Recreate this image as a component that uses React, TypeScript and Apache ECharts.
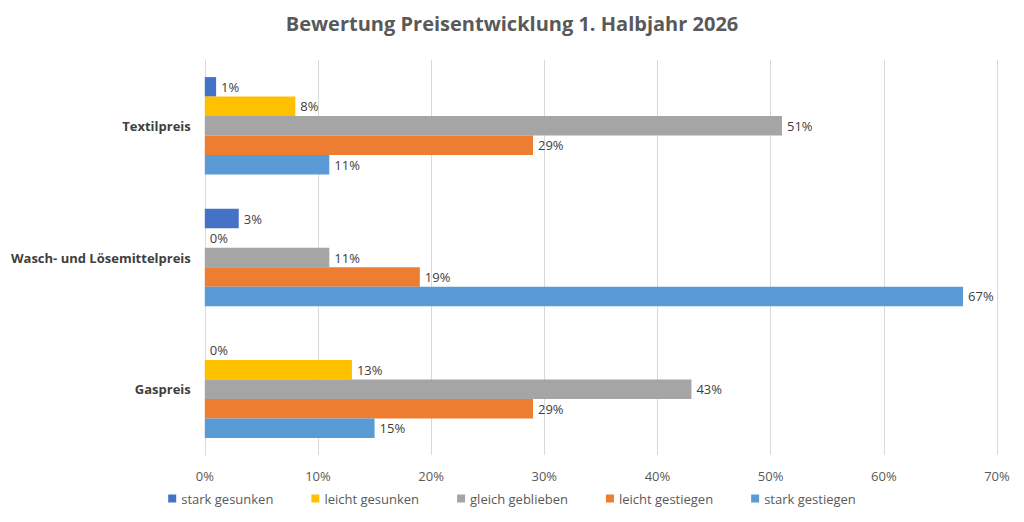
import React, { useEffect, useRef } from "react";
import * as echarts from "echarts";

const categories = ["Gaspreis", "Wasch- und Lösemittelpreis", "Textilpreis"];
const seriesNames = ["stark gesunken", "leicht gesunken", "gleich geblieben", "leicht gestiegen", "stark gestiegen"];
const colors = ["#4472C4", "#FFC000", "#A5A5A5", "#ED7D31", "#5B9BD5"];
const values = [
  [0, 3, 1],
  [13, 0, 8],
  [43, 11, 51],
  [29, 19, 29],
  [15, 67, 11],
];
const xTicks = [0, 10, 20, 30, 40, 50, 60, 70];

export default function App() {
  const ref = useRef<HTMLDivElement>(null);
  useEffect(() => {
    const chart = echarts.init(ref.current!, null, { renderer: "svg" });
    const font = "Open Sans";
    const order = [0, 1, 2, 3, 4];
    chart.setOption({
      animation: false,
      textStyle: { fontFamily: font },
      title: {
        text: "Bewertung Preisentwicklung 1. Halbjahr 2026",
        left: "center",
        top: 0,
        textStyle: { fontSize: 20, fontWeight: "bold", color: "#595959", fontFamily: font },
      },
      legend: {
        data: seriesNames,
        bottom: 4,
        itemWidth: 8,
        itemHeight: 8,
        itemGap: 38,
        icon: "rect",
        textStyle: { fontSize: 13, color: "#595959" },
      },
      grid: { left: 196, right: 19, top: 52, bottom: 59 },
      xAxis: {
        type: "value",
        min: 0,
        max: 70,
        interval: 10,
        axisLabel: { formatter: (v: number) => (xTicks.includes(v) ? v + "%" : ""), color: "#595959", fontSize: 13, margin: 14 },
        splitLine: { lineStyle: { color: "#D9D9D9" } },
        axisLine: { show: false },
        axisTick: { show: false },
      },
      yAxis: {
        type: "category",
        inverse: false,
        data: categories,
        axisLabel: { fontWeight: "bold", color: "#404040", fontSize: 13, margin: 14 },
        axisLine: { lineStyle: { color: "#D9D9D9" } },
        axisTick: { show: false },
      },
      series: order.map((i) => ({
        name: seriesNames[i],
        type: "bar",
        data: values[i],
        itemStyle: { color: colors[i] },
        barGap: "0%",
        barCategoryGap: "26%",
        label: { show: true, position: "right", formatter: "{c}%", color: "#404040", fontSize: 13 },
      })),
    });
    return () => chart.dispose();
  }, []);
  return <div ref={ref} style={{ width: 1008, height: 506 }} />;
}
